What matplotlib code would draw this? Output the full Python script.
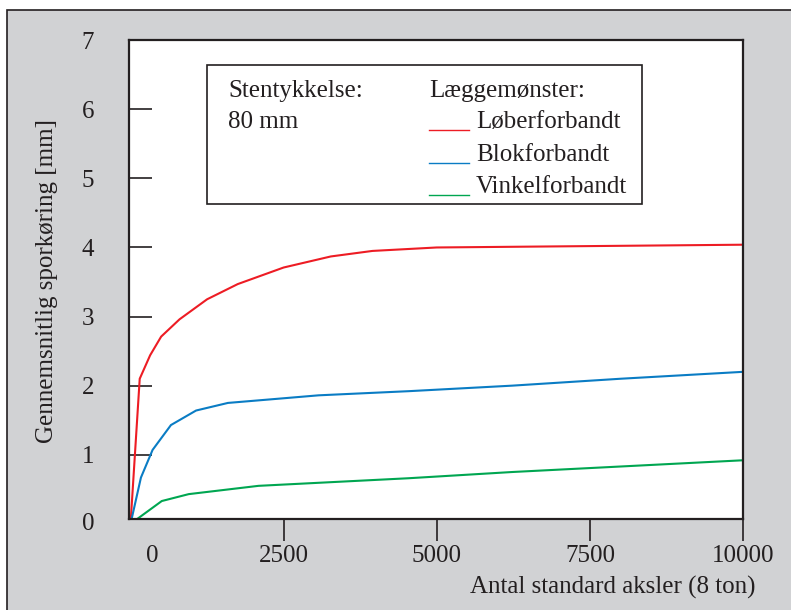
import matplotlib
matplotlib.use("Agg")
import matplotlib.pyplot as plt
from matplotlib.patches import Rectangle
from matplotlib.lines import Line2D
import matplotlib.transforms as mtransforms

plt.rcParams['font.family'] = ['Liberation Serif', 'DejaVu Serif']

# --- data -------------------------------------------------------------
loeber_x = [0, 150, 320, 500, 800, 1250, 1750, 2500, 3270, 3950, 5000, 10000]
loeber_y = [0, 2.10, 2.44, 2.71, 2.96, 3.25, 3.47, 3.71, 3.87, 3.95, 4.00, 4.04]

blok_x = [0, 170, 360, 660, 1070, 1590, 2400, 3070, 4540, 6230, 8000, 10000]
blok_y = [0, 0.67, 1.07, 1.43, 1.64, 1.75, 1.81, 1.86, 1.92, 2.00, 2.10, 2.20]

vinkel_x = [0, 510, 950, 2090, 4540, 6230, 10000]
vinkel_y = [0, 0.33, 0.43, 0.55, 0.66, 0.75, 0.92]

x_ticks = [0, 2500, 5000, 7500, 10000]
y_ticks = [0, 1, 2, 3, 4, 5, 6, 7]

series_labels = ["Løberforbandt", "Blokforbandt", "Vinkelforbandt"]
series_colors = ["#ed1c24", "#0a7cc4", "#00a651"]

# --- layout -------------------------------------------------------------
W, H, DPI = 791, 610, 100
INK = "#231f20"
FS = 18


def fx(px):
    return px / W


def fy(py):
    return 1 - py / H


fig = plt.figure(figsize=(W / DPI, H / DPI), dpi=DPI, facecolor="white")

# grey panel with a dark border on its top and left
fig.patches.append(Rectangle((fx(7), fy(700)), fx(900), 690 / H,
                             transform=fig.transFigure, facecolor="#d1d2d4",
                             edgecolor=INK, linewidth=1.2, zorder=0))

ax = fig.add_axes([fx(129), fy(519), fx(743 - 129), (519 - 40.2) / H])
ax.set_facecolor("white")
ax.set_zorder(2)

for xs, ys, c in zip([loeber_x, blok_x, vinkel_x],
                     [loeber_y, blok_y, vinkel_y], series_colors):
    ax.plot(xs, ys, color=c, lw=1.5, solid_joinstyle="miter", clip_on=True)

ax.set_xlim(-25, 10000)
ax.set_ylim(0.07, 7)

for s in ax.spines.values():
    s.set_color(INK)
    s.set_linewidth(1.6)

ax.set_xticks(x_ticks)
ax.set_xticklabels([str(v) for v in x_ticks])
ax.set_yticks(y_ticks[1:])
ax.set_yticklabels([str(v) for v in y_ticks[1:]])

ax.tick_params(axis="x", direction="out", length=15.5, width=1.2,
               color=INK, labelcolor=INK, labelsize=FS, pad=3)
ax.tick_params(axis="y", direction="in", length=16.5, width=1.2,
               color=INK, labelcolor=INK, labelsize=FS, pad=25)

# first x tick: no mark, label nudged right
ax.xaxis.get_major_ticks()[0].tick1line.set_visible(False)
shift = mtransforms.ScaledTranslation(22 / DPI, 0, fig.dpi_scale_trans)
for lab in ax.get_xticklabels():
    if lab.get_text() == "0":
        lab.set_transform(lab.get_transform() + shift)

# y label "0" sits just below the axis floor
ax.annotate(str(y_ticks[0]), xy=(0, y_ticks[0]),
            xycoords=("axes fraction", "data"), xytext=(-25, 0),
            textcoords="offset points", ha="right", va="center",
            fontsize=FS, color=INK, annotation_clip=False)

fig.text(fx(47), fy(281), "Gennemsnitlig sporkøring [mm]", rotation=90,
         ha="center", va="center", fontsize=FS, color=INK)
fig.text(fx(756), fy(594), "Antal standard aksler (8 ton)",
         ha="right", va="baseline", fontsize=FS, color=INK)

# key box
fig.patches.append(Rectangle((fx(206.7), fy(204.3)), fx(641.7 - 206.7),
                             (204.3 - 65) / H, transform=fig.transFigure,
                             facecolor="white", edgecolor=INK, linewidth=1.2,
                             zorder=5))
fig.text(fx(228), fy(96.7), "Stentykkelse:", ha="left", va="baseline",
         fontsize=FS, color=INK, zorder=6)
fig.text(fx(228), fy(128.3), "80 mm", ha="left", va="baseline",
         fontsize=FS, color=INK, zorder=6)
fig.text(fx(429.5), fy(96.7), "Læggemønster:", ha="left", va="baseline",
         fontsize=FS, color=INK, zorder=6)

text_base = [128.3, 161.0, 192.7]
line_y = [130.0, 163.3, 195.3]
for lab, c, tb, ly in zip(series_labels, series_colors, text_base, line_y):
    fig.lines.append(Line2D([fx(429.3), fx(468.7)], [fy(ly), fy(ly)],
                            transform=fig.transFigure, color=c, lw=1.0,
                            zorder=6))
    fig.text(fx(476), fy(tb), lab, ha="left", va="baseline",
             fontsize=FS, color=INK, zorder=6)

fig.savefig("out.png", dpi=DPI, facecolor="white")
